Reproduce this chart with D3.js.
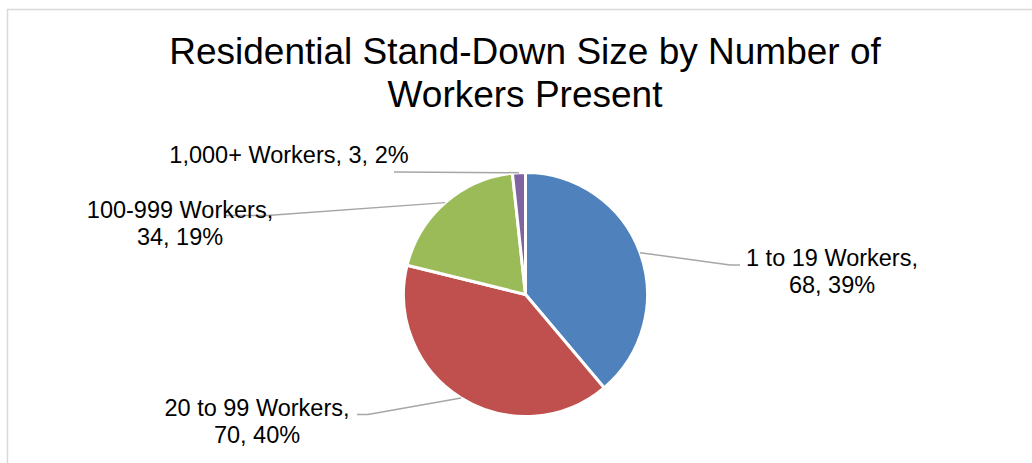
<!DOCTYPE html>
<html>
<head>
<meta charset="utf-8">
<script src="https://cdn.jsdelivr.net/npm/d3@7"></script>
<style>
  html, body { margin: 0; padding: 0; background: #fff; }
  svg { display: block; }
</style>
</head>
<body>
<svg id="chart" width="1032" height="463"></svg>
<script>
// ---- data ----
const categories = ["1 to 19 Workers", "20 to 99 Workers", "100-999 Workers", "1,000+ Workers"];
const values = [68, 70, 34, 3];
const percentLabels = ["39%", "40%", "19%", "2%"];
const titleLines = ["Residential Stand-Down Size by Number of", "Workers Present"];

// ---- styles / layout ----
const colors = ["#4F81BD", "#C0504D", "#9BBB59", "#8064A2"];
const font = "'Liberation Sans', Arial, sans-serif";
// label text lines
const labelLines = [
  [categories[0] + ",", values[0] + ", " + percentLabels[0]],
  [categories[1] + ",", values[1] + ", " + percentLabels[1]],
  [categories[2] + ",", values[2] + ", " + percentLabels[2]],
  [categories[3] + ", " + values[3] + ", " + percentLabels[3]]
];
// [text center x, first baseline y, elbow x, elbow y, end x]
const labelLayout = [
  [832, 266, 730, 265, 740],
  [257, 416, 368, 414.5, 357],
  [180, 218, 267, 215.5, 225],
  [289, 163, 394, 172, 394]
];

const svg = d3.select("#chart");
const W = 1032, H = 463;

svg.append("rect").attr("width", W).attr("height", H).attr("fill", "#fff");
// chart frame
svg.append("rect")
  .attr("x", 7.5).attr("y", 9.5)
  .attr("width", W + 20).attr("height", H + 20)
  .attr("fill", "none").attr("stroke", "#d9d9d9").attr("stroke-width", 1.5);

// title
const title = svg.append("text")
  .attr("text-anchor", "middle")
  .attr("font-family", font)
  .attr("font-size", 37)
  .attr("fill", "#000");
titleLines.forEach((t, i) => {
  title.append("tspan").attr("x", 525).attr("y", 64 + i * 43).text(t);
});

// pie
const cx = 525.5, cy = 294.5, r = 122;
const pie = d3.pie().sort(null).value(d => d);
const arcs = pie(values);
const arc = d3.arc().innerRadius(0).outerRadius(r);

const g = svg.append("g").attr("transform", `translate(${cx},${cy})`);
g.selectAll("path.slice")
  .data(arcs)
  .join("path")
  .attr("class", "slice")
  .attr("d", arc)
  .attr("fill", (d, i) => colors[i])
  .attr("stroke", "#fff")
  .attr("stroke-width", 3)
  .attr("stroke-linejoin", "round");

// leader lines
arcs.forEach((d, i) => {
  const a = (d.startAngle + d.endAngle) / 2;
  const sx = cx + r * Math.sin(a);
  const sy = cy - r * Math.cos(a);
  const L = labelLayout[i];
  svg.append("polyline")
    .attr("points", `${sx},${sy} ${L[2]},${L[3]} ${L[4]},${L[3]}`)
    .attr("fill", "none")
    .attr("stroke", "#a6a6a6")
    .attr("stroke-width", 1.5);
});

// labels
labelLines.forEach((lines, i) => {
  const L = labelLayout[i];
  const t = svg.append("text")
    .attr("text-anchor", "middle")
    .attr("font-family", font)
    .attr("font-size", 23.5)
    .attr("fill", "#000");
  lines.forEach((s, j) => {
    t.append("tspan").attr("x", L[0]).attr("y", L[1] + j * 27).text(s);
  });
});
</script>
</body>
</html>
